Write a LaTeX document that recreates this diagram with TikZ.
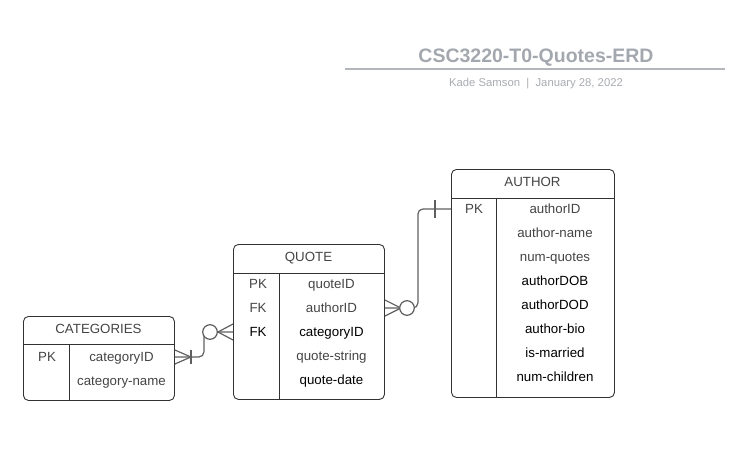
\documentclass[tikz,border=0pt]{standalone}
\usepackage{fontspec}
\setmainfont{Liberation Sans}
\definecolor{titlegray}{RGB}{163,167,174}
\definecolor{subgray}{RGB}{168,171,177}
\definecolor{rulegray}{RGB}{178,181,186}
\definecolor{boxline}{RGB}{50,50,50}
\definecolor{linkgray}{RGB}{95,95,95}
\definecolor{fieldgray}{RGB}{68,68,68}
\tikzset{
  entity/.style={draw=boxline, line width=0.9pt, rounded corners=5pt, anchor=north west, inner sep=0pt},
  split/.style={draw=boxline, line width=0.9pt},
  field/.style={font=\fontsize{13.3}{16}\selectfont, text height=9.5pt, text depth=0pt, inner sep=0pt, text=fieldgray},
  fieldb/.style={field, text=black},
  link/.style={draw=linkgray, line width=1.2pt, rounded corners=5pt},
  zero/.style={circle, draw=linkgray, line width=1.2pt, fill=white, minimum size=14.6pt, inner sep=0pt},
}
\begin{document}
\begin{tikzpicture}[x=1pt, y=-1pt]
\useasboundingbox (0,0) rectangle (747,466);

% title block
\node[font=\fontsize{19.5}{22}\selectfont\bfseries, text=titlegray, text height=14pt, text depth=0pt, inner sep=0pt] (title) at (536,55) {CSC3220-T0-Quotes-ERD};
\draw[rulegray, line width=1.8pt] (345,69) -- (725,69);
\node[font=\fontsize{11.3}{13}\selectfont, text=subgray, text height=8.1pt, text depth=0pt, inner sep=0pt] (byline) at (536,82) {Kade Samson\ \ |\ \ January 28, 2022};

% CATEGORIES
\node[entity, minimum width=151pt, minimum height=84pt] (categories) at (23,316) {};
\draw[split] (categories.west |- 0,344) -- (categories.east |- 0,344);
\draw[split] (69,344) -- (categories.south -| 69,0);
\node[field] (c-head) at (98.5,329) {CATEGORIES};
\node[field] (c-pk) at (47,357) {PK};
\node[field] (c-catid) at (121.5,357) {categoryID};
\node[field] (c-name) at (121.5,381) {category-name};

% QUOTE
\node[entity, minimum width=151pt, minimum height=155pt] (quote) at (233,244) {};
\draw[split] (quote.west |- 0,273) -- (quote.east |- 0,273);
\draw[split] (279,273) -- (quote.south -| 279,0);
\node[field] (q-head) at (308.5,257) {QUOTE};
\node[field] (q-pk) at (258,284) {PK};
\node[field] (q-fk1) at (258,308) {FK};
\node[fieldb] (q-fk2) at (258,332) {FK};
\node[field] (q-quoteid) at (331.5,284) {quoteID};
\node[field] (q-authid) at (331.5,308) {authorID};
\node[fieldb] (q-catid) at (331.5,332) {categoryID};
\node[field] (q-string) at (331.5,356) {quote-string};
\node[fieldb] (q-date) at (331.5,380) {quote-date};

% AUTHOR
\node[entity, minimum width=163pt, minimum height=228pt] (author) at (451,169) {};
\draw[split] (author.west |- 0,198) -- (author.east |- 0,198);
\draw[split] (496,198) -- (author.south -| 496,0);
\node[field] (a-head) at (532.5,182) {AUTHOR};
\node[field] (a-pk) at (474,209) {PK};
\node[field] (a-authid) at (555,209) {authorID};
\node[field] (a-name) at (555,233) {author-name};
\node[field] (a-num) at (555,257) {num-quotes};
\node[fieldb] (a-dob) at (555,281) {authorDOB};
\node[fieldb] (a-dod) at (555,305) {authorDOD};
\node[fieldb] (a-bio) at (555,329) {author-bio};
\node[fieldb] (a-married) at (555,353) {is-married};
\node[fieldb] (a-children) at (555,377) {num-children};

% categories --< quote
\coordinate (cc) at (categories.east |- c-catid);
\coordinate (qc) at (quote.west |- q-catid);
\draw[link] (cc) -- ++(29,0) |- (qc);
\draw[link, rounded corners=0pt] (cc) ++(0,-7) -- ++(16,7) -- ++(-16,7);
\draw[link] (cc) ++(16,-7) -- ++(0,14);
\node[zero] (qc-zero) at (210,332) {};
\draw[link, rounded corners=0pt] (qc) ++(0,-8) -- ++(-15,8) -- ++(15,8);

% quote >-- author
\coordinate (qa) at (quote.east |- q-authid);
\coordinate (aa) at (author.west |- a-authid);
\draw[link] (qa) -- ++(33,0) |- (aa);
\draw[link, rounded corners=0pt] (qa) ++(0,-8) -- ++(16,8) -- ++(-16,8);
\node[zero] (qa-zero) at (407,308) {};
\draw[link] (aa) ++(-16,-9) -- ++(0,18);
\end{tikzpicture}
\end{document}
